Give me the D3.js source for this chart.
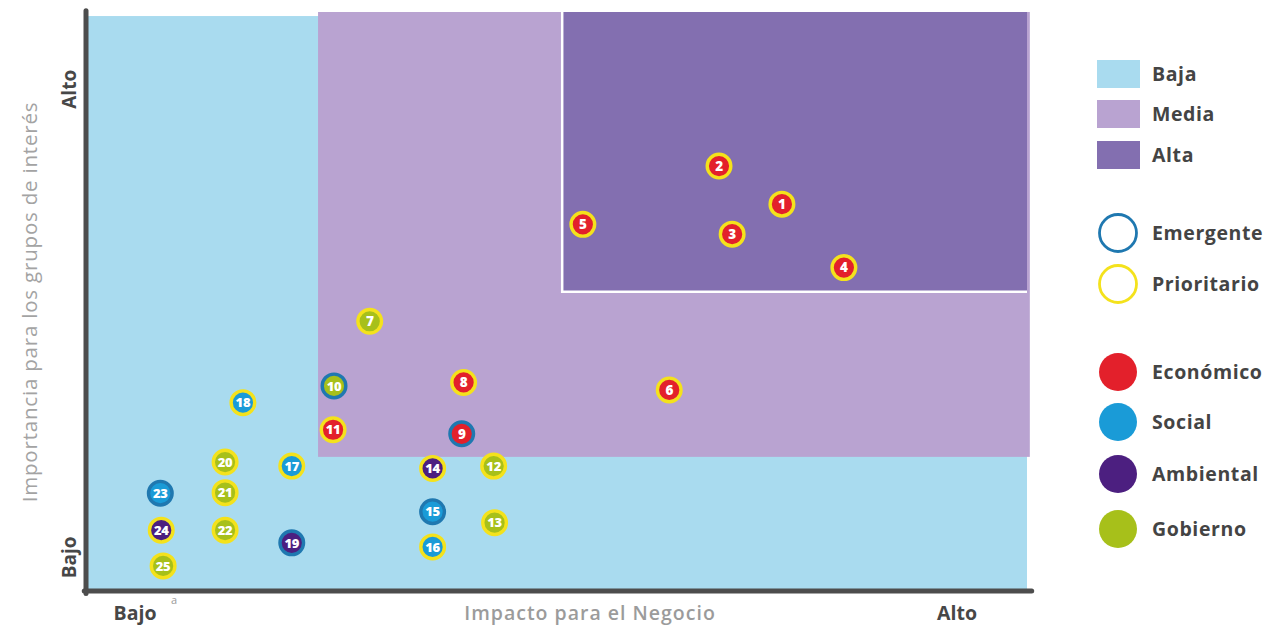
<!DOCTYPE html>
<html>
<head>
<meta charset="utf-8">
<script src="https://cdn.jsdelivr.net/npm/d3@7"></script>
<style>
  html, body { margin: 0; padding: 0; background: #ffffff; }
  svg { display: block; }
  text { font-family: "Open Sans", "Noto Sans", sans-serif; }
</style>
</head>
<body>
<svg id="chart" width="1271" height="627"></svg>
<script>
// Materiality matrix: business impact (x) vs stakeholder importance (y)

// Issue identifiers
const ids = ["1","2","3","4","5","6","7","8","9","10","11","12","13","14","15","16","17","18","19","20","21","22","23","24","25"];
// Impact for the business (0 = low, 100 = high)
const impacto = [73.9, 67.2, 68.6, 80.5, 52.7, 61.9, 30.0, 40.0, 39.8, 26.2, 26.1, 43.2, 43.3, 36.7, 36.7, 36.7, 21.7, 16.5, 21.7, 14.6, 14.6, 14.6, 7.7, 7.8, 8.0];
// Importance for stakeholders (0 = low, 100 = high)
const importancia = [66.7, 73.3, 61.5, 55.7, 63.2, 34.5, 46.4, 35.8, 26.9, 35.2, 27.6, 21.3, 11.5, 20.9, 13.4, 7.3, 21.3, 32.3, 8.0, 22.0, 16.7, 10.2, 16.6, 10.2, 4.0];
// Dimension of each issue
const dimension = ["Económico","Económico","Económico","Económico","Económico","Económico","Gobierno","Económico","Económico","Gobierno","Económico","Gobierno","Gobierno","Ambiental","Social","Social","Social","Social","Ambiental","Gobierno","Gobierno","Gobierno","Social","Ambiental","Gobierno"];
// Status of each issue
const estado = ["Prioritario","Prioritario","Prioritario","Prioritario","Prioritario","Prioritario","Prioritario","Prioritario","Emergente","Emergente","Prioritario","Prioritario","Prioritario","Prioritario","Emergente","Prioritario","Prioritario","Prioritario","Emergente","Prioritario","Prioritario","Prioritario","Emergente","Prioritario","Prioritario"];

// Priority zones (x0, x1, y0, y1 in data units)
const zonas = ["Baja", "Media", "Alta"];
const zonaX0 = [0, 24.5, 50.5];
const zonaX1 = [100, 100.3, 100];
const zonaY0 = [0, 22.9, 51.5];
const zonaY1 = [99.3, 100, 100];

const dimensiones = ["Económico", "Social", "Ambiental", "Gobierno"];
const estados = ["Emergente", "Prioritario"];

const zonaColor = d3.scaleOrdinal().domain(zonas).range(["#a9dbef", "#b9a3d1", "#836fb0"]);
const dimColor = d3.scaleOrdinal().domain(dimensiones).range(["#e3202b", "#1a9bd7", "#4c1f80", "#a7c01a"]);
const estadoColor = d3.scaleOrdinal().domain(estados).range(["#1f78b0", "#f4e21c"]);

const svg = d3.select("#chart");
const x = d3.scaleLinear().domain([0, 100]).range([88, 1027]);
const y = d3.scaleLinear().domain([0, 100]).range([589, 12]);

// Zones
const zg = svg.append("g");
zonas.forEach((z, i) => {
  zg.append("rect")
    .attr("x", x(zonaX0[i]))
    .attr("y", y(zonaY1[i]))
    .attr("width", x(zonaX1[i]) - x(zonaX0[i]))
    .attr("height", y(zonaY0[i]) - y(zonaY1[i]))
    .attr("fill", zonaColor(z));
});
// White edge on the high-priority block
const ai = 2;
zg.append("path")
  .attr("d", `M${x(zonaX0[ai])},${y(zonaY1[ai])} V${y(zonaY0[ai])} H${x(zonaX1[ai])}`)
  .attr("fill", "none")
  .attr("stroke", "#ffffff")
  .attr("stroke-width", 2.5);

// Axes (bare lines)
const axisColor = "#4d4d4d";
const yAxis = d3.axisLeft(y).tickValues([]).tickSizeOuter(0);
const xAxis = d3.axisBottom(x).tickValues([]).tickSizeOuter(0);
const gy = svg.append("g").attr("transform", "translate(86,0)").call(yAxis);
gy.select(".domain").attr("stroke", axisColor).attr("stroke-width", 5)
  .attr("d", `M0,${y(100.2)}V${y(-0.8)}`).attr("stroke-linecap", "round");
const gx = svg.append("g").attr("transform", "translate(0,591)").call(xAxis);
gx.select(".domain").attr("stroke", axisColor).attr("stroke-width", 5)
  .attr("d", `M${x(-0.4)},0H${x(100.5)}`).attr("stroke-linecap", "round");

// Axis end labels
const labColor = "#474747";
svg.append("text").attr("transform", `translate(76,${y(86.6)}) rotate(-90)`)
  .attr("text-anchor", "middle").attr("font-weight", 700).attr("font-size", 19)
  .attr("fill", labColor).text("Alto");
svg.append("text").attr("transform", `translate(76,${y(5.5)}) rotate(-90)`)
  .attr("text-anchor", "middle").attr("font-weight", 700).attr("font-size", 19)
  .attr("fill", labColor).text("Bajo");
svg.append("text").attr("x", 135).attr("y", 620)
  .attr("text-anchor", "middle").attr("font-weight", 700).attr("font-size", 19.5)
  .attr("fill", labColor).text("Bajo");
svg.append("text").attr("x", 957).attr("y", 620)
  .attr("text-anchor", "middle").attr("font-weight", 700).attr("font-size", 19.5)
  .attr("fill", labColor).text("Alto");
svg.append("text").attr("x", 174).attr("y", 604)
  .attr("text-anchor", "middle").attr("font-size", 11)
  .attr("fill", "#9a9a9a").text("a");

// Axis titles
svg.append("text").attr("x", 590).attr("y", 620)
  .attr("text-anchor", "middle").attr("font-weight", 600).attr("font-size", 19.5)
  .attr("letter-spacing", 1)
  .attr("fill", "#9b9b9b").text("Impacto para el Negocio");
svg.append("text").attr("transform", `translate(37,302) rotate(-90)`)
  .attr("text-anchor", "middle").attr("font-weight", 500).attr("font-size", 20.5)
  .attr("letter-spacing", 0.8)
  .attr("fill", "#a3a3a3").text("Importancia para los grupos de interés");

// Issues
const pts = svg.append("g");
ids.forEach((id, i) => {
  const g = pts.append("g").attr("transform", `translate(${x(impacto[i])},${y(importancia[i])})`);
  g.append("circle").attr("r", 11.8)
    .attr("fill", dimColor(dimension[i]))
    .attr("stroke", estadoColor(estado[i]))
    .attr("stroke-width", 3.4);
  g.append("text").attr("text-anchor", "middle").attr("dy", "0.36em")
    .attr("font-weight", 800).attr("font-size", id.length > 1 ? 13 : 13.5)
    .attr("letter-spacing", -0.3)
    .attr("fill", "#ffffff").text(id);
});

// Legend
const lg = svg.append("g");
const legText = (yy, t) => lg.append("text").attr("x", 1152).attr("y", yy).attr("dy", "0.35em")
  .attr("font-weight", 700).attr("font-size", 19.5).attr("letter-spacing", 0.6)
  .attr("fill", "#444444").text(t);
const zonaLegY = [74, 114, 155];
zonas.forEach((z, i) => {
  lg.append("rect").attr("x", 1097).attr("y", zonaLegY[i] - 14).attr("width", 43).attr("height", 28)
    .attr("fill", zonaColor(z));
  legText(zonaLegY[i], z);
});
const estadoLegY = [233, 284];
estados.forEach((e, i) => {
  lg.append("circle").attr("cx", 1118).attr("cy", estadoLegY[i]).attr("r", 18.5)
    .attr("fill", "#ffffff").attr("stroke", estadoColor(e)).attr("stroke-width", 2.8);
  legText(estadoLegY[i], e);
});
const dimLegY = [372, 422, 474, 529];
dimensiones.forEach((d, i) => {
  lg.append("circle").attr("cx", 1118).attr("cy", dimLegY[i]).attr("r", 19)
    .attr("fill", dimColor(d));
  legText(dimLegY[i], d);
});
</script>
</body>
</html>
